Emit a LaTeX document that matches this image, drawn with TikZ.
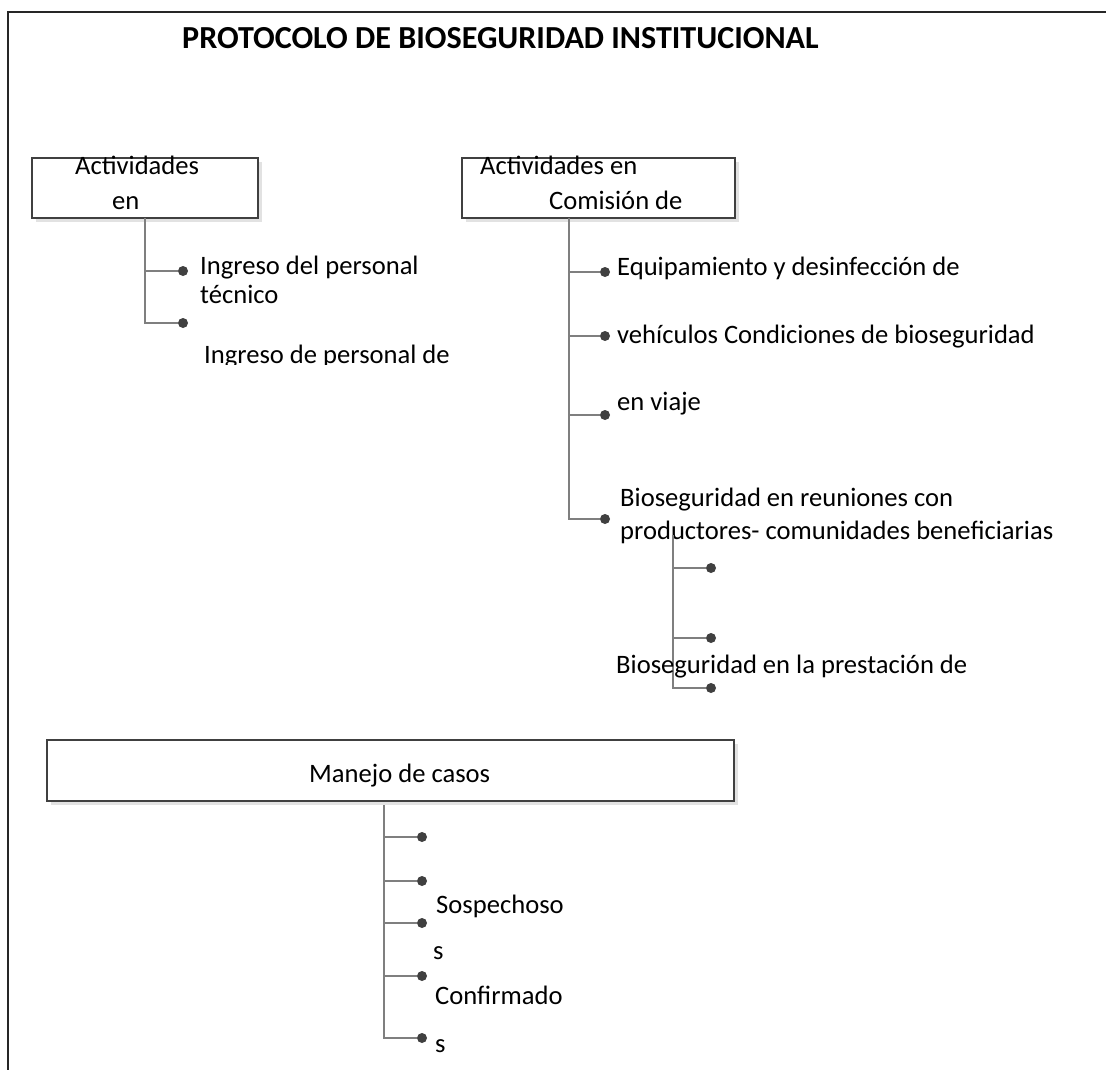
\documentclass[tikz,border=0pt]{standalone}
\usepackage{fontspec}
\setmainfont{Carlito}
\usetikzlibrary{shadows}
\definecolor{boxc}{HTML}{404040}
\definecolor{connc}{HTML}{7F7F7F}
\definecolor{dotc}{HTML}{404040}
\definecolor{shadc}{HTML}{E2E2E2}
\tikzset{
  boxnode/.style={draw=boxc, line width=1.4pt, fill=white, rectangle, inner sep=0pt,
    drop shadow={shadow xshift=4pt, shadow yshift=-4pt, fill=shadc, opacity=1}},
  lbl/.style={anchor=base west, inner sep=0pt, font=\fontsize{26.6}{30}\selectfont},
  dot/.style={circle, fill=dotc, inner sep=0pt, minimum size=10pt},
  conn/.style={draw=connc, line width=1.3pt},
  framec/.style={draw=black!85, line width=2pt}
}
\begin{document}
\begin{tikzpicture}[x=1pt,y=-1pt]
\useasboundingbox (0,0) rectangle (1106,1070);
% frame
\coordinate (fl) at (8,1070);
\coordinate (ftl) at (8,12);
\coordinate (ftr) at (1106,12);
\draw[framec] (fl) -- (ftl) -- (ftr);
% title
\node[anchor=base west, inner sep=0pt, font=\bfseries\fontsize{32.1}{38}\selectfont] (title) at (182,49) {PROTOCOLO DE BIOSEGURIDAD INSTITUCIONAL};

% ---------- box 1 ----------
\node[boxnode, minimum width=226pt, minimum height=60pt] (b1) at (145,188) {};
\node[lbl] (b1t1) at (75,175) {Actividades};
\node[lbl] (b1t2) at (112,209) {en};
\coordinate (t1) at (145,218);
\node[dot] (d11) at (183,271) {};
\node[dot] (d12) at (183,323) {};
\draw[conn] (t1) |- (d12);
\draw[conn] (t1 |- d11) -- (d11);
\node[lbl] (i11) at (200,274) {Ingreso del personal};
\node[lbl] (i12) at (200,303) {técnico};
\begin{scope}
\clip (0,0) rectangle (1106,364);
\node[lbl] (i13) at (204,363) {Ingreso de personal de};
\end{scope}

% ---------- box 2 ----------
\node[boxnode, minimum width=273pt, minimum height=60pt] (b2) at (598.5,188) {};
\node[lbl] (b2t1) at (480,175) {Actividades en};
\node[lbl] (b2t2) at (549,209) {Comisión de};
\coordinate (t2) at (569,218);
\node[dot] (d21) at (605,272) {};
\node[dot] (d22) at (605,336) {};
\node[dot] (d23) at (605,415) {};
\node[dot] (d24) at (605,519) {};
\draw[conn] (t2) |- (d24);
\draw[conn] (t2 |- d21) -- (d21);
\draw[conn] (t2 |- d22) -- (d22);
\draw[conn] (t2 |- d23) -- (d23);
\node[lbl] (i21) at (617,275) {Equipamiento y desinfección de};
\node[lbl] (i22) at (617,343) {vehículos Condiciones de bioseguridad};
\node[lbl] (i23) at (617,410) {en viaje};
\node[lbl] (i24) at (620,506) {Bioseguridad en reuniones con};
\node[lbl] (i25) at (620,539) {productores- comunidades beneficiarias};
% sub tree
\coordinate (t3) at (673,535);
\node[dot] (d31) at (711,568) {};
\node[dot] (d32) at (711,638) {};
\node[dot] (d33) at (711,688) {};
\draw[conn] (t3) |- (d33);
\draw[conn] (t3 |- d31) -- (d31);
\draw[conn] (t3 |- d32) -- (d32);
\node[lbl] (i31) at (616,673) {Bioseguridad en la prestación de};

% ---------- box 3 ----------
\node[boxnode, minimum width=687pt, minimum height=61pt] (b3) at (390.5,770.5) {};
\node[lbl] (b3t) at (309,782) {Manejo de casos};
\coordinate (t4) at (384,805);
\node[dot] (d41) at (422,837) {};
\node[dot] (d42) at (422,881) {};
\node[dot] (d43) at (422,923) {};
\node[dot] (d44) at (422,976) {};
\node[dot] (d45) at (422,1038) {};
\draw[conn] (t4) |- (d45);
\draw[conn] (t4 |- d41) -- (d41);
\draw[conn] (t4 |- d42) -- (d42);
\draw[conn] (t4 |- d43) -- (d43);
\draw[conn] (t4 |- d44) -- (d44);
\node[lbl] (i41) at (436,913) {Sospechoso};
\node[lbl] (i42) at (433,959) {s};
\node[lbl] (i43) at (435,1004) {Confirmado};
\node[lbl] (i44) at (435,1052) {s};
\end{tikzpicture}
\end{document}
